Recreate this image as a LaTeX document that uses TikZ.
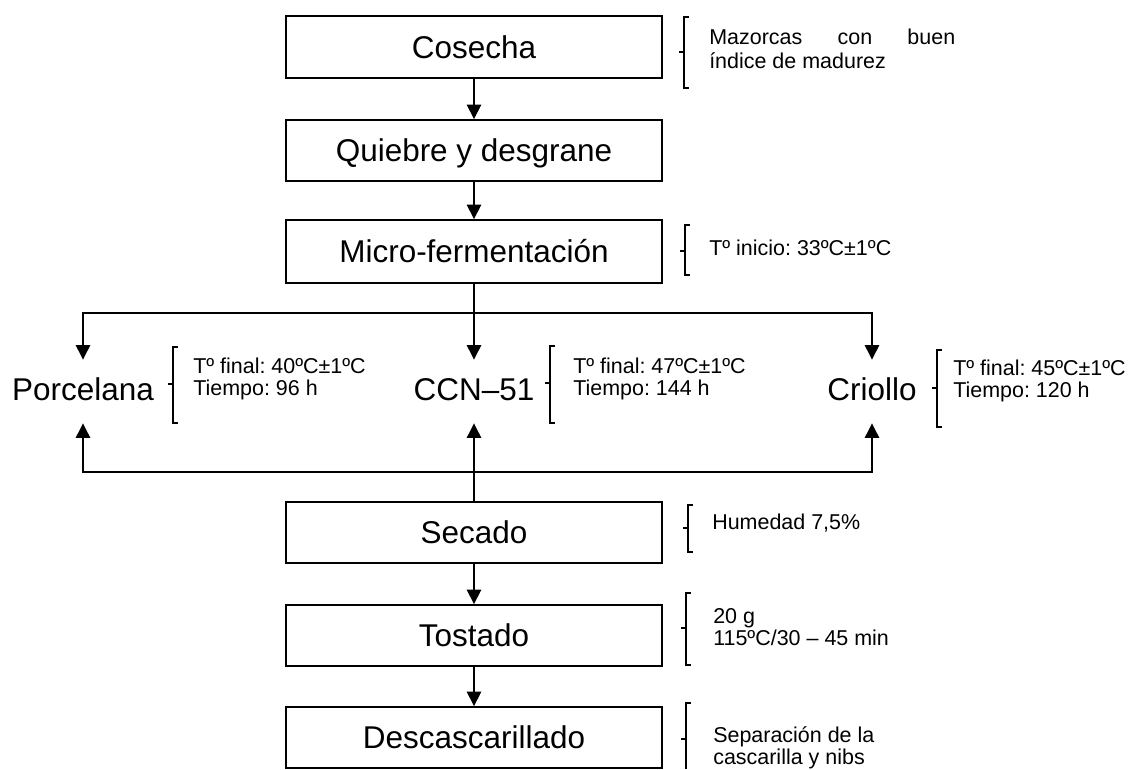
\documentclass[tikz,border=0pt]{standalone}
\usepackage{fontspec}
\setmainfont{Liberation Sans}
\usetikzlibrary{arrows.meta}
\frenchspacing
\newcommand\mybrace[4]{\draw[brk] (#1+5,#2) -- (#1,#2) -- (#1,#4) -- (#1+5,#4) (#1,#3) -- (#1-5,#3);}
\begin{document}
\begin{tikzpicture}[x=0.75pt,y=-0.75pt,
  stepbox/.style={draw, line width=1.1pt, minimum width=282pt, inner sep=0pt,
    text height=17pt, text depth=0pt, font=\fontsize{23.6}{28}\selectfont},
  variety/.style={inner sep=0pt, minimum height=47.25pt, text height=17pt,
    text depth=4.25pt, font=\fontsize{23.6}{28}\selectfont},
  note/.style={anchor=base west, inner sep=0pt, font=\fontsize{16.1}{18}\selectfont\frenchspacing},
  link/.style={line width=2pt, -{Triangle[width=10.5pt,length=11pt]}},
  brk/.style={line width=0.9pt}]
\useasboundingbox (0,0) rectangle (1133,769);

% process boxes
\node[stepbox, minimum height=46.5pt]  (cos) at (474,47)    {Cosecha};
\node[stepbox, minimum height=45.75pt] (qui) at (474,150.5) {Quiebre y desgrane};
\node[stepbox, minimum height=47.25pt] (mic) at (474,251.5) {Micro-fermentación};
\node[stepbox, minimum height=45.75pt] (sec) at (474,532.5) {Secado};
\node[stepbox, minimum height=45.75pt] (tos) at (474,635.5) {Tostado};
\node[stepbox, minimum height=45.75pt] (des) at (474,737.5) {Descascarillado};

% varieties
\node[variety] (porc) at (83,391.5)  {Porcelana};
\node[variety] (ccn)  at (474,391.5) {CCN–51};
\node[variety] (crio) at (872,391.5) {Criollo};

\coordinate (topbar) at (474,313);
\coordinate (botbar) at (474,472);

% connectors
\draw[link] (cos.south) -- (qui.north);
\draw[link] (qui.south) -- (mic.north);
\draw[link] (mic.south) -- (ccn.north);
\draw[link] (topbar) -| (porc.north);
\draw[link] (topbar) -| (crio.north);
\draw[link] (sec.north) -- (ccn.south);
\draw[link] (botbar) -| (porc.south);
\draw[link] (botbar) -| (crio.south);
\draw[link] (sec.south) -- (tos.north);
\draw[link] (tos.south) -- (des.north);

% braces
\mybrace{684}{17}{52}{88}
\mybrace{685}{225}{251}{275}
\mybrace{173}{347}{384}{423}
\mybrace{550}{346}{383}{423}
\mybrace{937}{350}{388}{427}
\mybrace{688}{505}{528}{552}
\mybrace{686}{593}{628}{665}
\draw[brk] (691,703) -- (686,703) -- (686,769) (686,739) -- (681,739);

% notes
\node[note] (n1a) at (709,44) {\makebox[184.5pt][s]{Mazorcas con buen}};
\node[note] (n1b) at (709,68) {índice de madurez};
\node[note] (n2)  at (709,255) {Tº inicio: 33ºC±1ºC};
\node[note] (n3a) at (193,373) {Tº final: 40ºC±1ºC};
\node[note] (n3b) at (193,395) {Tiempo: 96 h};
\node[note] (n4a) at (573,373) {Tº final: 47ºC±1ºC};
\node[note] (n4b) at (573,395) {Tiempo: 144 h};
\node[note] (n5a) at (953,375) {Tº final: 45ºC±1ºC};
\node[note] (n5b) at (953,397) {Tiempo: 120 h};
\node[note] (n6)  at (712,529) {Humedad 7,5\%};
\node[note] (n7a) at (713,623) {20 g};
\node[note] (n7b) at (713,645) {115ºC/30 – 45 min};
\node[note] (n8a) at (713,742) {Separación de la};
\node[note] (n8b) at (713,764) {cascarilla y nibs};
\end{tikzpicture}
\end{document}
